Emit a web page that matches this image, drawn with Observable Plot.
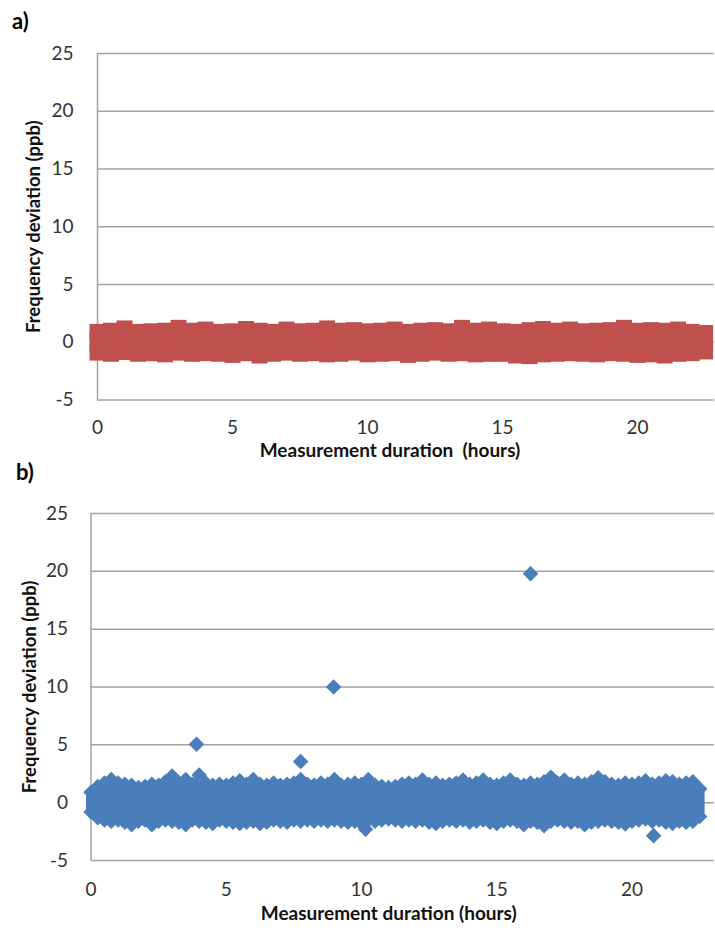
<!DOCTYPE html>
<html><head><meta charset="utf-8">
<script src="https://cdn.jsdelivr.net/npm/d3@7"></script>
<script src="https://cdn.jsdelivr.net/npm/@observablehq/plot@0.6"></script>
<style>
body{margin:0;background:#fff;}
#wrap{position:relative;width:715px;height:931px;font-family:Lato,sans-serif;overflow:hidden;}
.panel-tag{position:absolute;font-weight:bold;font-size:22px;color:#000;line-height:1;}
svg text{white-space:pre;}
#charts svg{display:block;}
</style></head><body>
<div id="wrap">
<div id="charts"></div>
<div class="panel-tag" style="left:12px;top:10px">a)</div>
<div class="panel-tag" style="left:16px;top:461px">b)</div>
</div>
<script>
// ---- shared axes ----
const yTicks = [-5, 0, 5, 10, 15, 20, 25];
const xTicks = [0, 5, 10, 15, 20];
const yTitle = "Frequency deviation (ppb)";
const xTitleA = "Measurement duration  (hours)";
const xTitleB = "Measurement duration (hours)";

// ---- panel a: envelope of the red square markers (ppb) ----
const hoursA = [0,0.5,1,1.5,2,2.5,3,3.5,4,4.5,5,5.5,6,6.5,7,7.5,8,8.5,9,9.5,10,10.5,11,11.5,12,12.5,13,13.5,14,14.5,15,15.5,16,16.5,17,17.5,18,18.5,19,19.5,20,20.5,21,21.5,22,22.5];
const upperA = [0.9,1.0,1.2,0.9,0.95,1.0,1.25,1.0,1.1,0.9,0.95,1.15,1.0,0.9,1.1,0.95,1.0,1.2,1.0,1.05,0.95,1.0,1.1,0.9,1.0,1.05,0.95,1.25,1.0,1.1,0.95,0.9,1.05,1.15,1.0,1.1,0.95,1.0,1.05,1.25,1.0,1.05,1.0,1.1,0.9,0.8];
const lowerA = [-0.9,-1.0,-0.85,-1.0,-0.95,-1.05,-0.9,-1.0,-0.95,-1.0,-1.1,-0.95,-1.15,-1.0,-0.9,-1.0,-0.95,-1.05,-1.0,-0.9,-1.05,-1.0,-0.95,-1.1,-1.0,-0.9,-1.0,-0.95,-1.05,-1.0,-1.0,-1.15,-1.2,-1.05,-1.0,-0.95,-1.0,-1.05,-0.95,-1.0,-1.1,-1.05,-1.15,-1.0,-0.95,-0.8];

// ---- panel b: envelope of the blue diamond markers (ppb) ----
const hoursB = [0,0.25,0.5,0.75,1,1.25,1.5,1.75,2,2.25,2.5,2.75,3,3.25,3.5,3.75,4,4.25,4.5,4.75,5,5.25,5.5,5.75,6,6.25,6.5,6.75,7,7.25,7.5,7.75,8,8.25,8.5,8.75,9,9.25,9.5,9.75,10,10.25,10.5,10.75,11,11.25,11.5,11.75,12,12.25,12.5,12.75,13,13.25,13.5,13.75,14,14.25,14.5,14.75,15,15.25,15.5,15.75,16,16.25,16.5,16.75,17,17.25,17.5,17.75,18,18.25,18.5,18.75,19,19.25,19.5,19.75,20,20.25,20.5,20.75,21,21.25,21.5,21.75,22,22.25,22.5];
const upperB = [0.9,1.4,1.7,2.0,1.7,1.6,1.5,1.3,1.4,1.6, 1.5,1.8,2.3,1.7,2.0,1.6,2.4,1.7,1.5,1.6, 1.5,1.7,1.9,1.6,2.0,1.6,1.5,1.7,1.5,1.6, 1.7,2.0,1.6,1.5,1.7,1.6,2.0,1.5,1.6,1.7, 1.6,2.0,1.5,1.4,1.3,1.4,1.6,1.7,1.6,1.95, 1.6,1.7,1.5,1.6,1.7,1.95,1.6,1.7,1.95,1.6, 1.5,1.7,1.95,1.6,1.5,1.7,1.6,1.8,2.2,1.7, 1.95,1.6,1.7,1.6,1.8,2.15,1.8,1.6,1.5,1.7, 1.6,1.7,1.9,1.6,1.7,1.9,1.8,1.6,1.7,1.8, 1.2];
const lowerB = [-0.8,-1.3,-1.5,-1.6,-1.5,-1.7,-1.9,-1.6,-1.5,-1.9, -1.6,-1.5,-1.6,-1.7,-1.9,-1.5,-1.6,-1.7,-1.8,-1.5, -1.6,-1.7,-1.8,-1.7,-1.6,-1.8,-1.7,-1.5,-1.6,-1.7, -1.5,-1.6,-1.5,-1.6,-1.5,-1.6,-1.5,-1.6,-1.7,-1.6, -1.8,-1.5,-1.6,-1.5,-1.4,-1.5,-1.6,-1.5,-1.6,-1.5, -1.7,-1.8,-1.6,-1.5,-1.6,-1.5,-1.7,-1.6,-1.5,-1.7, -1.8,-1.6,-1.5,-1.6,-1.9,-1.6,-1.7,-2.0,-1.6,-1.5, -1.6,-1.7,-1.6,-1.9,-1.7,-1.6,-1.5,-1.6,-1.7,-1.85, -1.6,-1.5,-1.4,-1.6,-1.5,-1.7,-1.8,-1.6,-1.7,-1.6, -1.2];
const outlierHoursB = [3.9, 7.75, 8.97, 10.15, 16.25, 20.8];
const outlierValuesB = [5.05, 3.55, 10.0, -2.3, 19.8, -2.85];

const rowsA = hoursA.map((h, i) => ({h, up: upperA[i], lo: lowerA[i]}));
const rowsB = hoursB.map((h, i) => ({h, up: upperB[i], lo: lowerB[i]}));
const outB = outlierHoursB.map((h, i) => ({h, v: outlierValuesB[i]}));

const grid = "#a3a3a3";
const tickColor = "#333";

function panel(o) {
  return Plot.plot({
    width: 715,
    height: o.height,
    marginTop: o.marginTop,
    marginBottom: o.marginBottom,
    marginLeft: o.marginLeft,
    marginRight: 1,
    style: {fontFamily: "Lato, sans-serif", fontSize: "19px", color: tickColor, background: "white", overflow: "visible"},
    x: {domain: [0, o.xMax], label: null},
    y: {domain: [-5, 25], label: null},
    marks: [
      Plot.ruleY(yTicks, {stroke: grid, strokeWidth: 1.5}),
      Plot.ruleX([0], {stroke: grid, strokeWidth: 1.5}),
      Plot.ruleX(o.rows, {x: "h", y1: "lo", y2: "up", stroke: o.color, strokeWidth: o.colWidth}),
      Plot.dot(o.rows, {x: "h", y: "up", symbol: o.symbol, r: o.r, fill: o.color}),
      Plot.dot(o.rows, {x: "h", y: "lo", symbol: o.symbol, r: o.r, fill: o.color}),
      o.out ? Plot.dot(o.out, {x: "h", y: "v", symbol: o.symbol, r: o.r, fill: o.color}) : null,
      Plot.axisY({ticks: yTicks, tickSize: 0, tickPadding: o.padY, tickFormat: d => String(d), label: null}),
      Plot.axisX({ticks: xTicks, tickSize: 0, tickPadding: o.padX, tickFormat: d => String(d), label: null}),
      Plot.text([yTitle], {frameAnchor: "left", rotate: -90, dx: o.yTitleDx, textAnchor: "middle", lineAnchor: "middle", fontWeight: "bold", fontSize: 18.5, fill: "#111"}),
      Plot.text([o.xTitle], {frameAnchor: "bottom", dx: o.xTitleDx, dy: o.xTitleDy, textAnchor: "middle", lineAnchor: "middle", fontWeight: "bold", fontSize: 19, fill: "#111"})
    ]
  });
}

const charts = document.getElementById("charts");
charts.append(panel({
  rows: rowsA, color: "#C0504D", symbol: "square", r: 9, colWidth: 16,
  height: 465, marginTop: 53, marginBottom: 65.5, marginLeft: 97, xMax: 22.85,
  padY: 24, padX: 20, yTitleDx: -63, xTitle: xTitleA, xTitleDx: -16, xTitleDy: 50.5
}));
charts.append(panel({
  rows: rowsB, out: outB, color: "#4A7EBB", symbol: "diamond2", r: 7, colWidth: 10,
  height: 466, marginTop: 48, marginBottom: 71, marginLeft: 90.5, xMax: 23.05,
  padY: 23, padX: 22, yTitleDx: -61, xTitle: xTitleB, xTitleDx: -14, xTitleDy: 53
}));
</script>
</body></html>
